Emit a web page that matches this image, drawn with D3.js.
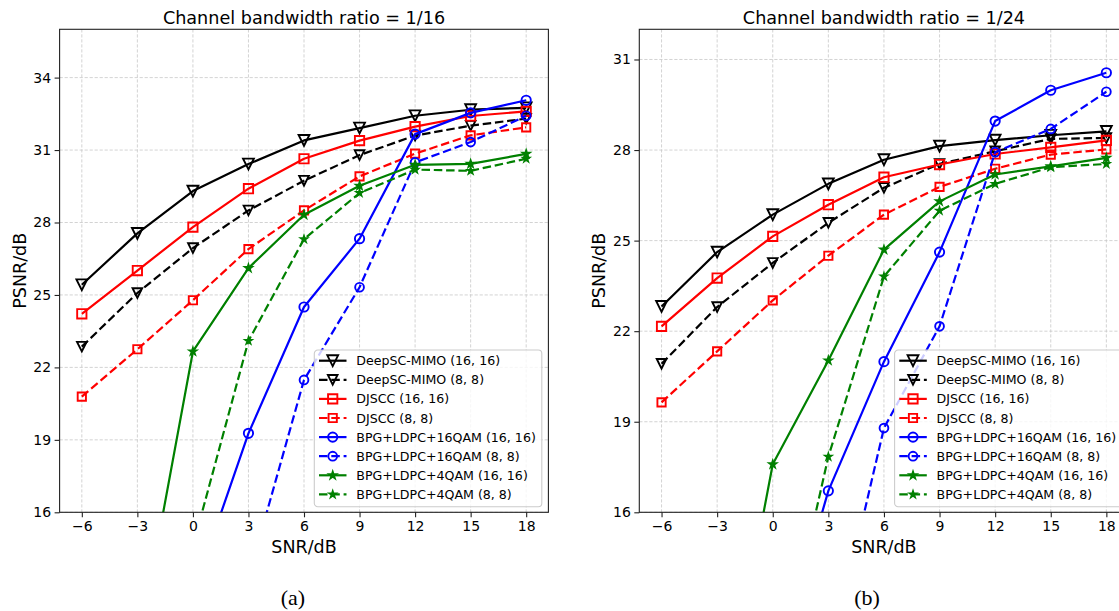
<!DOCTYPE html>
<html>
<head>
<meta charset="utf-8">
<script src="https://cdn.jsdelivr.net/npm/d3@7"></script>
<style>
  html, body { margin: 0; padding: 0; background: #fff; overflow: hidden; }
  svg { display: block; }
  text { font-family: "DejaVu Sans", sans-serif; fill: #000; }
</style>
</head>
<body>
<svg id="fig" width="1119" height="611"></svg>
<script>
// ---- data -------------------------------------------------------------
const snr = [-6, -3, 0, 3, 6, 9, 12, 15, 18];
const snrTicks = [-6, -3, 0, 3, 6, 9, 12, 15, 18];

const seriesNames = [
  "DeepSC-MIMO (16, 16)", "DeepSC-MIMO (8, 8)",
  "DJSCC (16, 16)", "DJSCC (8, 8)",
  "BPG+LDPC+16QAM (16, 16)", "BPG+LDPC+16QAM (8, 8)",
  "BPG+LDPC+4QAM (16, 16)", "BPG+LDPC+4QAM (8, 8)"
];

// Channel bandwidth ratio = 1/16 (PSNR in dB, null = not measured)
const deepscA16 = [25.42, 27.55, 29.30, 30.42, 31.40, 31.91, 32.42, 32.67, 32.75];
const deepscA8  = [22.86, 25.08, 26.94, 28.50, 29.73, 30.79, 31.60, 32.01, 32.30];
const djsccA16  = [24.22, 26.01, 27.81, 29.40, 30.64, 31.39, 31.97, 32.41, 32.60];
const djsccA8   = [20.79, 22.75, 24.78, 26.90, 28.50, 29.91, 30.85, 31.61, 31.94];
const qam16A16  = [null, null, 12.6, 19.27, 24.50, 27.33, 31.66, 32.54, 33.06];
const qam16A8   = [null, null, null, 13.3, 21.48, 25.32, 30.49, 31.33, 32.42];
const qam4A16   = [null, 10.2, 22.66, 26.11, 28.32, 29.52, 30.39, 30.43, 30.84];
const qam4A8    = [null, null, 14.6, 23.10, 27.31, 29.22, 30.19, 30.14, 30.64];
const psnrTicksA = [16, 19, 22, 25, 28, 31, 34];

// Channel bandwidth ratio = 1/24
const deepscB16 = [22.82, 24.62, 25.86, 26.88, 27.68, 28.13, 28.33, 28.49, 28.62];
const deepscB8  = [20.92, 22.80, 24.26, 25.59, 26.75, 27.54, 27.96, 28.37, 28.40];
const djsccB16  = [22.16, 23.76, 25.14, 26.19, 27.10, 27.52, 27.87, 28.09, 28.32];
const djsccB8   = [19.64, 21.33, 23.02, 24.50, 25.86, 26.78, 27.38, 27.85, 28.02];
const qam16B16  = [null, null, 10.3, 16.71, 20.99, 24.62, 28.96, 29.98, 30.56];
const qam16B8   = [null, null, null, 10.9, 18.79, 22.16, 27.93, 28.70, 29.93];
const qam4B16   = [null, 7.9, 17.59, 21.03, 24.70, 26.30, 27.19, 27.46, 27.74];
const qam4B8    = [null, null, 9.7, 17.84, 23.81, 25.99, 26.88, 27.43, 27.54];
const psnrTicksB = [16, 19, 22, 25, 28, 31];

// ---- styles -----------------------------------------------------------
const styles = [
  { color: "#000000", dashed: false, marker: "tri",    size: 10.8 },
  { color: "#000000", dashed: true,  marker: "tri",    size: 9.6 },
  { color: "#ff0000", dashed: false, marker: "square", size: 10.8 },
  { color: "#ff0000", dashed: true,  marker: "square", size: 9.6 },
  { color: "#0000ff", dashed: false, marker: "circle", size: 10.8 },
  { color: "#0000ff", dashed: true,  marker: "circle", size: 10.2 },
  { color: "#008000", dashed: false, marker: "star",   size: 8.4 },
  { color: "#008000", dashed: true,  marker: "star",   size: 7.6 }
];

function markerPath(kind, s) {
  const p = d3.path();
  const h = s / 2;
  if (kind === "tri") {
    p.moveTo(-h, -h); p.lineTo(h, -h); p.lineTo(0, h); p.closePath();
  } else if (kind === "square") {
    const a = h * 0.86;
    p.rect(-a, -a, 2 * a, 2 * a);
  } else if (kind === "circle") {
    p.arc(0, 0, h * 0.86, 0, 2 * Math.PI);
  } else {
    const R = h, r = R * 0.381966;
    for (let i = 0; i < 10; i++) {
      const rad = i % 2 ? r : R;
      const ang = -Math.PI / 2 + i * Math.PI / 5;
      const x = rad * Math.cos(ang), y = rad * Math.sin(ang);
      if (i === 0) p.moveTo(x, y); else p.lineTo(x, y);
    }
    p.closePath();
  }
  return p.toString();
}

const svg = d3.select("#fig");
const LW = 2.2;
const DASH = "8.5,3.8";

function drawMarker(sel, st) {
  return sel.attr("d", markerPath(st.marker, st.size))
    .attr("fill", st.marker === "star" ? st.color : "none")
    .attr("stroke", st.color)
    .attr("stroke-width", st.marker === "star" ? 1.5 : 1.9)
    .attr("stroke-linejoin", "miter");
}

function drawPanel(cfg) {
  const { x0, x1, y0, y1, yMax, yTicks, data, title, clipId, legendX } = cfg;
  const x = d3.scaleLinear().domain([-7.2, 19.2]).range([x0, x1]);
  const y = d3.scaleLinear().domain([16, yMax]).range([y1, y0]);
  const g = svg.append("g");

  g.append("clipPath").attr("id", clipId)
    .append("rect").attr("x", x0).attr("y", y0).attr("width", x1 - x0).attr("height", y1 - y0);

  // grid
  const grid = g.append("g").attr("stroke", "#c8c8c8").attr("stroke-width", 0.8)
    .attr("stroke-dasharray", "3.2,1.8");
  grid.selectAll(".gx").data(snrTicks).join("line")
    .attr("x1", d => x(d)).attr("x2", d => x(d)).attr("y1", y0).attr("y2", y1);
  grid.selectAll(".gy").data(yTicks).join("line")
    .attr("y1", d => y(d)).attr("y2", d => y(d)).attr("x1", x0).attr("x2", x1);

  // series
  const plot = g.append("g").attr("clip-path", `url(#${clipId})`);
  data.forEach((vals, i) => {
    const st = styles[i];
    const pts = snr.map((s, k) => [s, vals[k]]).filter(d => d[1] !== null);
    const line = d3.line().x(d => x(d[0])).y(d => y(d[1]));
    plot.append("path").attr("d", line(pts))
      .attr("fill", "none").attr("stroke", st.color).attr("stroke-width", LW)
      .attr("stroke-linejoin", "round")
      .attr("stroke-dasharray", st.dashed ? DASH : null);
    drawMarker(plot.selectAll(null).data(pts).join("path")
      .attr("transform", d => `translate(${x(d[0])},${y(d[1])})`), st);
  });

  // axes
  const ax = g.append("g").attr("transform", `translate(0,${y1})`)
    .call(d3.axisBottom(x).tickValues(snrTicks).tickSize(5).tickPadding(4)
      .tickFormat(d => d < 0 ? "\u2212" + Math.abs(d) : String(d)));
  const ay = g.append("g").attr("transform", `translate(${x0},0)`)
    .call(d3.axisLeft(y).tickValues(yTicks).tickSize(5).tickPadding(3.5));
  [ax, ay].forEach(a => {
    a.select(".domain").remove();
    a.selectAll("line").attr("stroke", "#222").attr("stroke-width", 1.1);
    a.selectAll("text").attr("font-family", "DejaVu Sans").attr("font-size", 14).attr("fill", "#000");
  });

  g.append("rect").attr("x", x0).attr("y", y0).attr("width", x1 - x0).attr("height", y1 - y0)
    .attr("fill", "none").attr("stroke", "#222").attr("stroke-width", 1.1);

  // titles and labels
  const cx = (x0 + x1) / 2;
  g.append("text").attr("x", cx).attr("y", 23.5).attr("text-anchor", "middle")
    .attr("font-size", 17.6).text(title);
  g.append("text").attr("x", cx).attr("y", 553).attr("text-anchor", "middle")
    .attr("font-size", 17.5).text("SNR/dB");
  g.append("text").attr("transform", `translate(${x0 - 34},${(y0 + y1) / 2}) rotate(-90)`)
    .attr("text-anchor", "middle").attr("font-size", 17.5).text("PSNR/dB");

  // legend
  const lw = 227.5, rowH = 19.1, lTop = 350, lH = 156.7;
  const lg = g.append("g").attr("transform", `translate(${legendX},${lTop})`);
  lg.append("rect").attr("width", lw).attr("height", lH).attr("rx", 3.5)
    .attr("fill", "#fff").attr("fill-opacity", 0.8).attr("stroke", "#cccccc").attr("stroke-width", 1.1);
  seriesNames.forEach((name, i) => {
    const st = styles[i];
    const cy = 10.7 + i * rowH;
    const row = lg.append("g").attr("transform", `translate(0,${cy})`);
    row.append("line").attr("x1", 4.7).attr("x2", 32.2).attr("y1", 0).attr("y2", 0)
      .attr("stroke", st.color).attr("stroke-width", LW)
      .attr("stroke-dasharray", st.dashed ? DASH : null);
    drawMarker(row.append("path").attr("transform", "translate(18.4,0)"), st);
    row.append("text").attr("x", 42).attr("y", 0).attr("dy", "0.36em")
      .attr("font-size", 12.6).text(name);
  });
}

drawPanel({
  x0: 59.6, x1: 548.4, y0: 29.3, y1: 512.3, yMax: 36, yTicks: psnrTicksA,
  data: [deepscA16, deepscA8, djsccA16, djsccA8, qam16A16, qam16A8, qam4A16, qam4A8],
  title: "Channel bandwidth ratio = 1/16", clipId: "clipA", legendX: 314.3
});
drawPanel({
  x0: 639.3, x1: 1128.6, y0: 29.3, y1: 512.3, yMax: 32, yTicks: psnrTicksB,
  data: [deepscB16, deepscB8, djsccB16, djsccB8, qam16B16, qam16B8, qam4B16, qam4B8],
  title: "Channel bandwidth ratio = 1/24", clipId: "clipB", legendX: 894.6
});

// sub-figure captions
svg.append("text").attr("x", 293).attr("y", 605).attr("text-anchor", "middle")
  .style("font-family", "'Liberation Serif', serif")
  .attr("font-size", 22).text("(a)");
svg.append("text").attr("x", 867).attr("y", 605).attr("text-anchor", "middle")
  .style("font-family", "'Liberation Serif', serif")
  .attr("font-size", 22).text("(b)");
</script>
</body>
</html>
